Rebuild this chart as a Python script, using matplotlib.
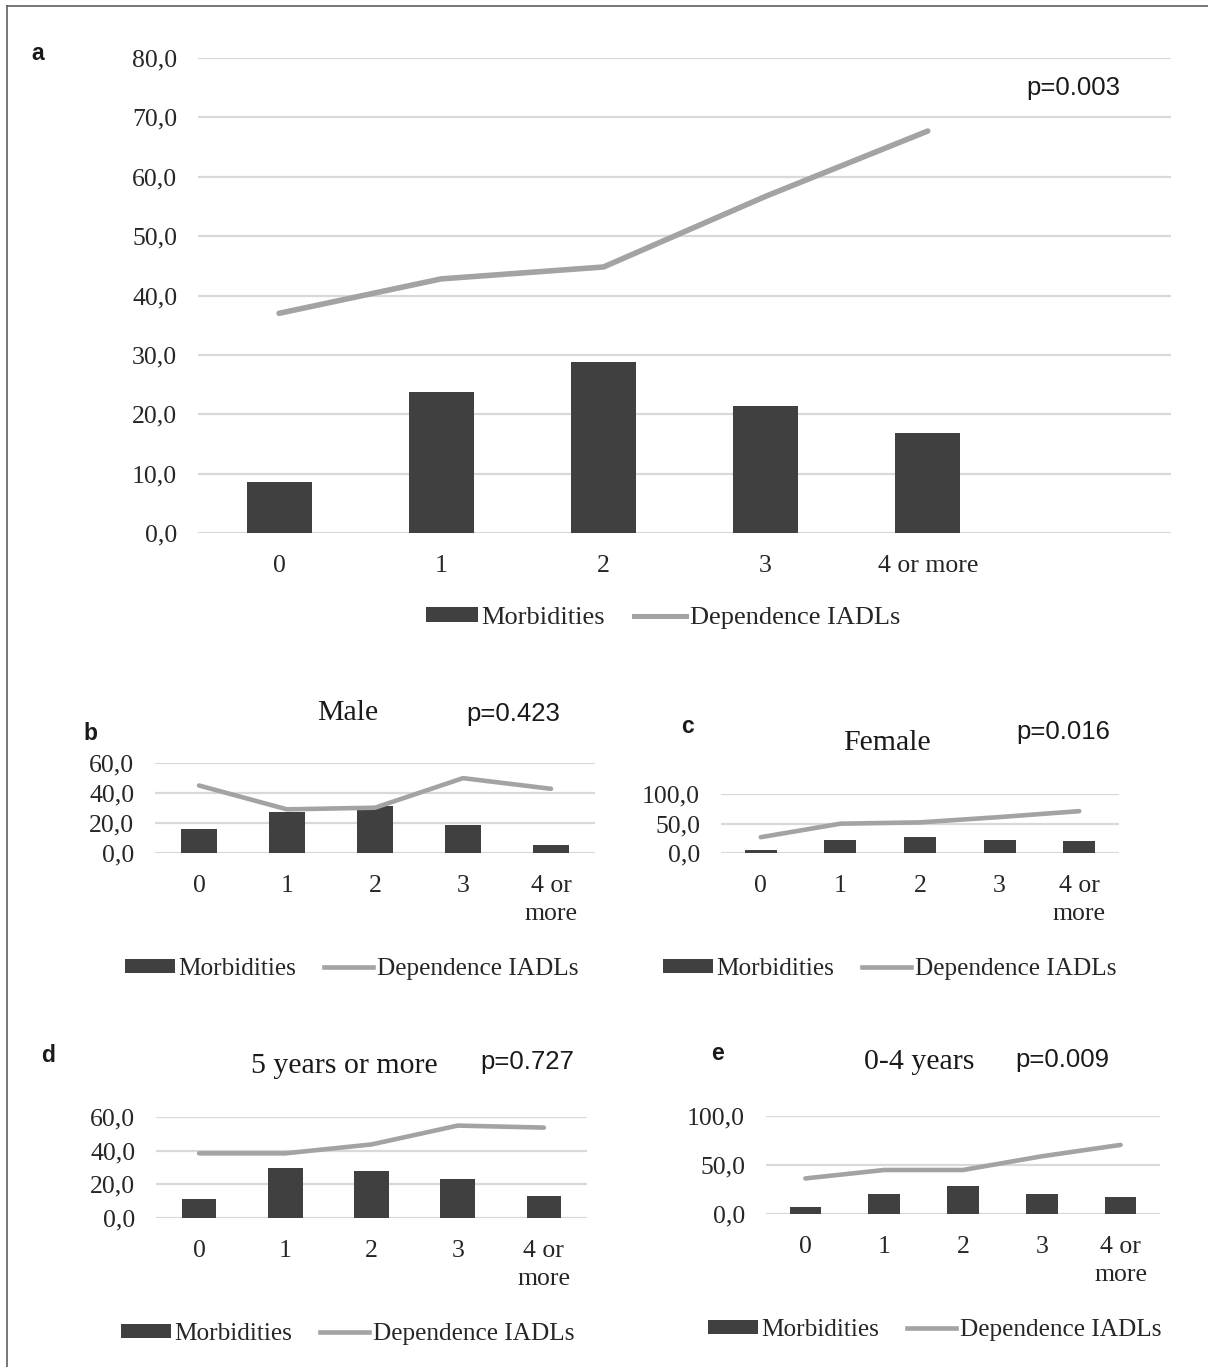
import matplotlib
matplotlib.use("Agg")
import matplotlib.pyplot as plt
from matplotlib.patches import Patch
from matplotlib.lines import Line2D

# Data (percentages)
categories = ["0", "1", "2", "3", "4 or more"]
categories_wrapped = ["0", "1", "2", "3", "4 or\nmore"]

a_morb = [8.6, 23.7, 28.8, 21.4, 16.8]
a_dep = [37.0, 42.8, 44.8, 56.7, 67.7]

b_morb = [15.9, 27.2, 31.3, 18.8, 5.5]
b_dep = [45.0, 29.1, 30.2, 49.9, 42.8]

c_morb = [5.0, 21.8, 27.4, 21.8, 20.7]
c_dep = [26.8, 49.7, 51.9, 60.9, 70.9]

d_morb = [11.2, 29.7, 28.1, 23.0, 13.2]
d_dep = [38.4, 38.4, 43.7, 54.9, 53.7]

e_morb = [7.1, 20.5, 28.8, 20.9, 17.8]
e_dep = [36.3, 44.9, 44.9, 58.9, 70.5]

a_ticks = [0, 10, 20, 30, 40, 50, 60, 70, 80]
b_ticks = [0, 20, 40, 60]
c_ticks = [0, 50, 100]
d_ticks = [0, 20, 40, 60]
e_ticks = [0, 50, 100]

W, H = 1208, 1367
BAR = "#404040"
LINE = "#a3a3a3"
GRID = "#d9d9d9"
TXT = "#262626"
SERIF = "Liberation Serif"
SANS = "Liberation Sans"
TICK_FS = 18.5

fig = plt.figure(figsize=(W / 100, H / 100), dpi=100)


def rect(left, right, top, bottom):
    return [left / W, 1 - bottom / H, (right - left) / W, (bottom - top) / H]


def fmt(v):
    return f"{v:.1f}".replace(".", ",")


def panel(box, morb, dep, ticks, labels, n_slots, lw):
    ax = fig.add_axes(rect(*box))
    x = list(range(len(morb)))
    ax.bar(x, morb, width=0.4, color=BAR, zorder=2)
    ax.plot(x, dep, color=LINE, lw=lw, solid_capstyle="round",
            solid_joinstyle="round", zorder=3)
    ax.set_xlim(-0.5, n_slots - 0.5)
    ax.set_ylim(0, ticks[-1])
    ax.set_yticks(ticks)
    ax.set_yticklabels([fmt(t) for t in ticks], fontfamily=SERIF,
                       fontsize=TICK_FS, color=TXT)
    ax.set_xticks(x)
    ax.set_xticklabels(labels, fontfamily=SERIF, fontsize=TICK_FS, color=TXT,
                       linespacing=1.35)
    ax.tick_params(axis="both", length=0)
    ax.tick_params(axis="y", pad=15)
    ax.tick_params(axis="x", pad=16)
    for s in ax.spines.values():
        s.set_visible(False)
    ax.yaxis.grid(True, color=GRID, lw=1.6, zorder=0)
    ax.set_axisbelow(True)
    return ax


def legend(cx, cy, lw, fs):
    handles = [Patch(facecolor=BAR, edgecolor="none", label="Morbidities"),
               Line2D([], [], color=LINE, lw=lw, label="Dependence IADLs")]
    fig.legend(handles=handles, loc="center", ncol=2, frameon=False,
               bbox_to_anchor=(cx / W, 1 - cy / H),
               prop={"family": SERIF, "size": fs},
               handlelength=1.95, handleheight=0.5, handletextpad=0.15,
               columnspacing=1.1, labelcolor=TXT)


def label(x, y, s, family, size, weight="normal", ha="center"):
    fig.text(x / W, 1 - y / H, s, ha=ha, va="center", fontfamily=family,
             fontsize=size, fontweight=weight, color="#1a1a1a")


# Panel a
panel((198, 1171, 58, 533), a_morb, a_dep, a_ticks, categories, 6, 4.0)
legend(663, 618, 3.6, 19)
label(38, 53, "a", SANS, 16.5, "bold")
label(1073, 88, "p=0.003", SANS, 18.5)

# Panel b: Male
panel((155, 595, 763, 853), b_morb, b_dep, b_ticks, categories_wrapped, 5, 3.3)
legend(352, 969, 3.3, 18.2)
label(90, 734, "b", SANS, 16.5, "bold")
label(348, 713, "Male", SERIF, 21.5)
label(513, 714, "p=0.423", SANS, 18.5)

# Panel c: Female
panel((721, 1119, 794, 853), c_morb, c_dep, c_ticks, categories_wrapped, 5, 3.3)
legend(890, 969, 3.3, 18.2)
label(687, 727, "c", SANS, 16.5, "bold")
label(887, 743, "Female", SERIF, 21.5)
label(1063, 732, "p=0.016", SANS, 18.5)

# Panel d: 5 years or more
panel((156, 587, 1117, 1218), d_morb, d_dep, d_ticks, categories_wrapped, 5, 3.3)
legend(348, 1334, 3.3, 18.2)
label(48, 1056, "d", SANS, 16.5, "bold")
label(344, 1066, "5 years or more", SERIF, 21.5)
label(527, 1062, "p=0.727", SANS, 18.5)

# Panel e: 0-4 years
panel((766, 1160, 1116, 1214), e_morb, e_dep, e_ticks, categories_wrapped, 5, 3.3)
legend(935, 1330, 3.3, 18.2)
label(717, 1053, "e", SANS, 16.5, "bold")
label(919, 1062, "0-4 years", SERIF, 21.5)
label(1062, 1060, "p=0.009", SANS, 18.5)

# Frame lines along the top and left edge
fig.add_artist(Line2D([7 / W, 1], [1 - 6 / H, 1 - 6 / H], color="#606060", lw=1.2))
fig.add_artist(Line2D([7 / W, 7 / W], [0, 1 - 6 / H], color="#606060", lw=1.2))

fig.savefig("out.png", dpi=100)
